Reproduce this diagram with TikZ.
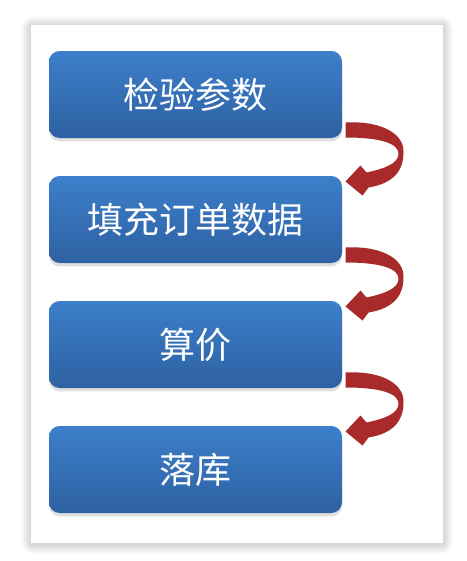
\documentclass[tikz,border=0pt]{standalone}
\usepackage{fontspec}
\newfontfamily\cjk{Noto Sans CJK SC}
\usetikzlibrary{positioning,calc,shadows}
\definecolor{boxtop}{RGB}{60,127,202}
\definecolor{boxbottom}{RGB}{46,97,163}
\definecolor{arrowred}{RGB}{168,42,42}
\tikzset{every picture/.style={line width=0.75pt}}
\tikzset{stepbox/.style={rounded corners=8pt, minimum width=219.75pt, minimum height=65.25pt, top color=boxtop, bottom color=boxbottom, text=white, font=\cjk\fontsize{27}{32}\selectfont, drop shadow={shadow xshift=0pt, shadow yshift=-2.5pt, opacity=0.25}}}

\begin{document}
\begin{tikzpicture}[x=0.75pt,y=0.75pt,yscale=-1,xscale=1,node distance=27.75pt]
	\useasboundingbox (0,0) rectangle (467,561);

	%Card shadow
	\foreach \i in {1,...,10}
		\fill[black, opacity=0.014, rounded corners=\i pt] (31-\i,25-\i+1) rectangle (443+\i,543+\i+1);
	%Card
	\fill[white] (31,25) rectangle (443,543);

	% Step nodes
	\node[stepbox] (check) at (195.5,94.5) {检验参数};
	\node[stepbox, below=of check] (fillorder) {填充订单数据};
	\node[stepbox, below=of fillorder] (price) {算价};
	\node[stepbox, below=of price] (store) {落库};

	%Curved Arrows
	\foreach \a/\b in {check/fillorder, fillorder/price, price/store}
		\fill[arrowred] ($(\a.south east)+(3,-16)$) .. controls ($(\a.south east)+(40,-18)$) and ($(\a.south east)+(62,-4)$) .. ($(\a.south east)+(61,14)$) .. controls ($(\b.north east)+(61,-5)$) and ($(\b.north east)+(51,8)$) .. ($(\b.north east)+(26,12)$) -- ($(\b.north east)+(20,20)$) -- ($(\b.north east)+(3,6)$) -- ($(\b.north east)+(18,-10)$) -- ($(\b.north east)+(24,-3)$) .. controls ($(\b.north east)+(43,-7)$) and ($(\a.south east)+(55,25)$) .. ($(\a.south east)+(56,16)$) .. controls ($(\a.south east)+(57,5)$) and ($(\a.south east)+(38,-1)$) .. ($(\a.south east)+(3,-1)$) -- cycle;

\end{tikzpicture}
\end{document}
